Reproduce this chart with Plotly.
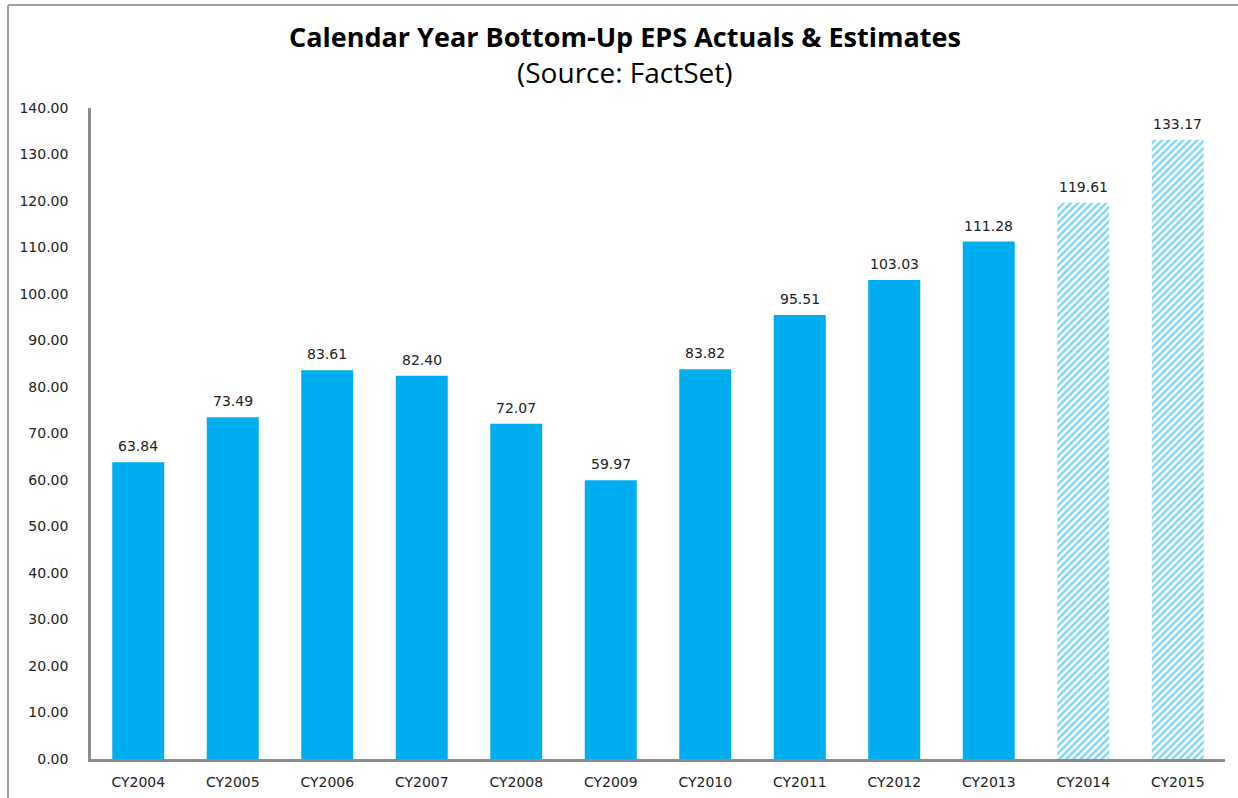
import plotly.graph_objects as go

years = ["CY2004", "CY2005", "CY2006", "CY2007", "CY2008", "CY2009",
         "CY2010", "CY2011", "CY2012", "CY2013", "CY2014", "CY2015"]
eps = [63.84, 73.49, 83.61, 82.40, 72.07, 59.97,
       83.82, 95.51, 103.03, 111.28, 119.61, 133.17]
is_estimate = [False] * 10 + [True, True]

BLUE = "#00AEEF"
AXIS = "#8c8c8c"
TEXT = "#222222"
LABEL_FONT = dict(family="DejaVu Sans", size=14, color=TEXT)

fig = go.Figure()

# Actual years: solid bars
act_x = [y for y, e in zip(years, is_estimate) if not e]
act_y = [v for v, e in zip(eps, is_estimate) if not e]
fig.add_trace(go.Bar(
    x=act_x, y=act_y,
    marker=dict(color=BLUE, line=dict(width=0)),
    showlegend=False, hoverinfo="x+y",
))

# Estimate years: hatched bars
est_x = [y for y, e in zip(years, is_estimate) if e]
est_y = [v for v, e in zip(eps, is_estimate) if e]
fig.add_trace(go.Bar(
    x=est_x, y=est_y,
    marker=dict(color="white", line=dict(width=0),
                pattern=dict(shape="/", fgcolor=BLUE, bgcolor="white",
                             size=5, solidity=0.5, fillmode="overlay")),
    showlegend=False, hoverinfo="x+y",
))

# value labels above each bar
value_labels = [
    dict(x=yr, y=v, text=f"{v:.2f}", xref="x", yref="y",
         showarrow=False, yanchor="bottom", yshift=6, font=LABEL_FONT)
    for yr, v in zip(years, eps)
]

# horizontal centre of the figure, in plot-area paper units
fig_centre = (625 - 91) / 1134

fig.update_layout(
    width=1238, height=798,
    margin=dict(l=91, r=13, t=108, b=39),
    paper_bgcolor="white", plot_bgcolor="white",
    bargap=0.45, barmode="overlay",
    font=dict(family="DejaVu Sans", size=14, color=TEXT),
    xaxis=dict(categoryorder="array", categoryarray=years,
               showline=True, linecolor=AXIS, linewidth=2.5,
               showgrid=False, ticks="", ticklabelstandoff=8,
               automargin=False,
               tickfont=dict(family="DejaVu Sans", size=14, color=TEXT)),
    yaxis=dict(range=[0, 140], dtick=10, tickformat=".2f",
               showline=True, linecolor=AXIS, linewidth=2.5,
               showgrid=False, zeroline=False, ticks="",
               ticklabelstandoff=17, automargin=False,
               tickfont=dict(family="DejaVu Sans", size=14, color=TEXT)),
    annotations=value_labels + [
        dict(text="<b>Calendar Year Bottom-Up EPS Actuals &amp; Estimates</b>",
             xref="paper", yref="paper", x=fig_centre, y=1.0, yshift=72,
             xanchor="center", yanchor="middle", showarrow=False,
             font=dict(family="Open Sans", size=27, color="#000000")),
        dict(text="(Source: FactSet)",
             xref="paper", yref="paper", x=fig_centre, y=1.0, yshift=36,
             xanchor="center", yanchor="middle", showarrow=False,
             font=dict(family="Open Sans", size=28, color="#000000")),
    ],
    shapes=[
        # frame around the chart
        dict(type="line", xref="paper", yref="paper",
             x0=-83 / 1134, x1=1.2, y0=1 + 103 / 651, y1=1 + 103 / 651,
             line=dict(color="#a0a0a0", width=2)),
        dict(type="line", xref="paper", yref="paper",
             x0=-83 / 1134, x1=-83 / 1134, y0=-0.2, y1=1 + 103 / 651,
             line=dict(color="#a0a0a0", width=2)),
    ],
)

fig.write_html("out.html")
